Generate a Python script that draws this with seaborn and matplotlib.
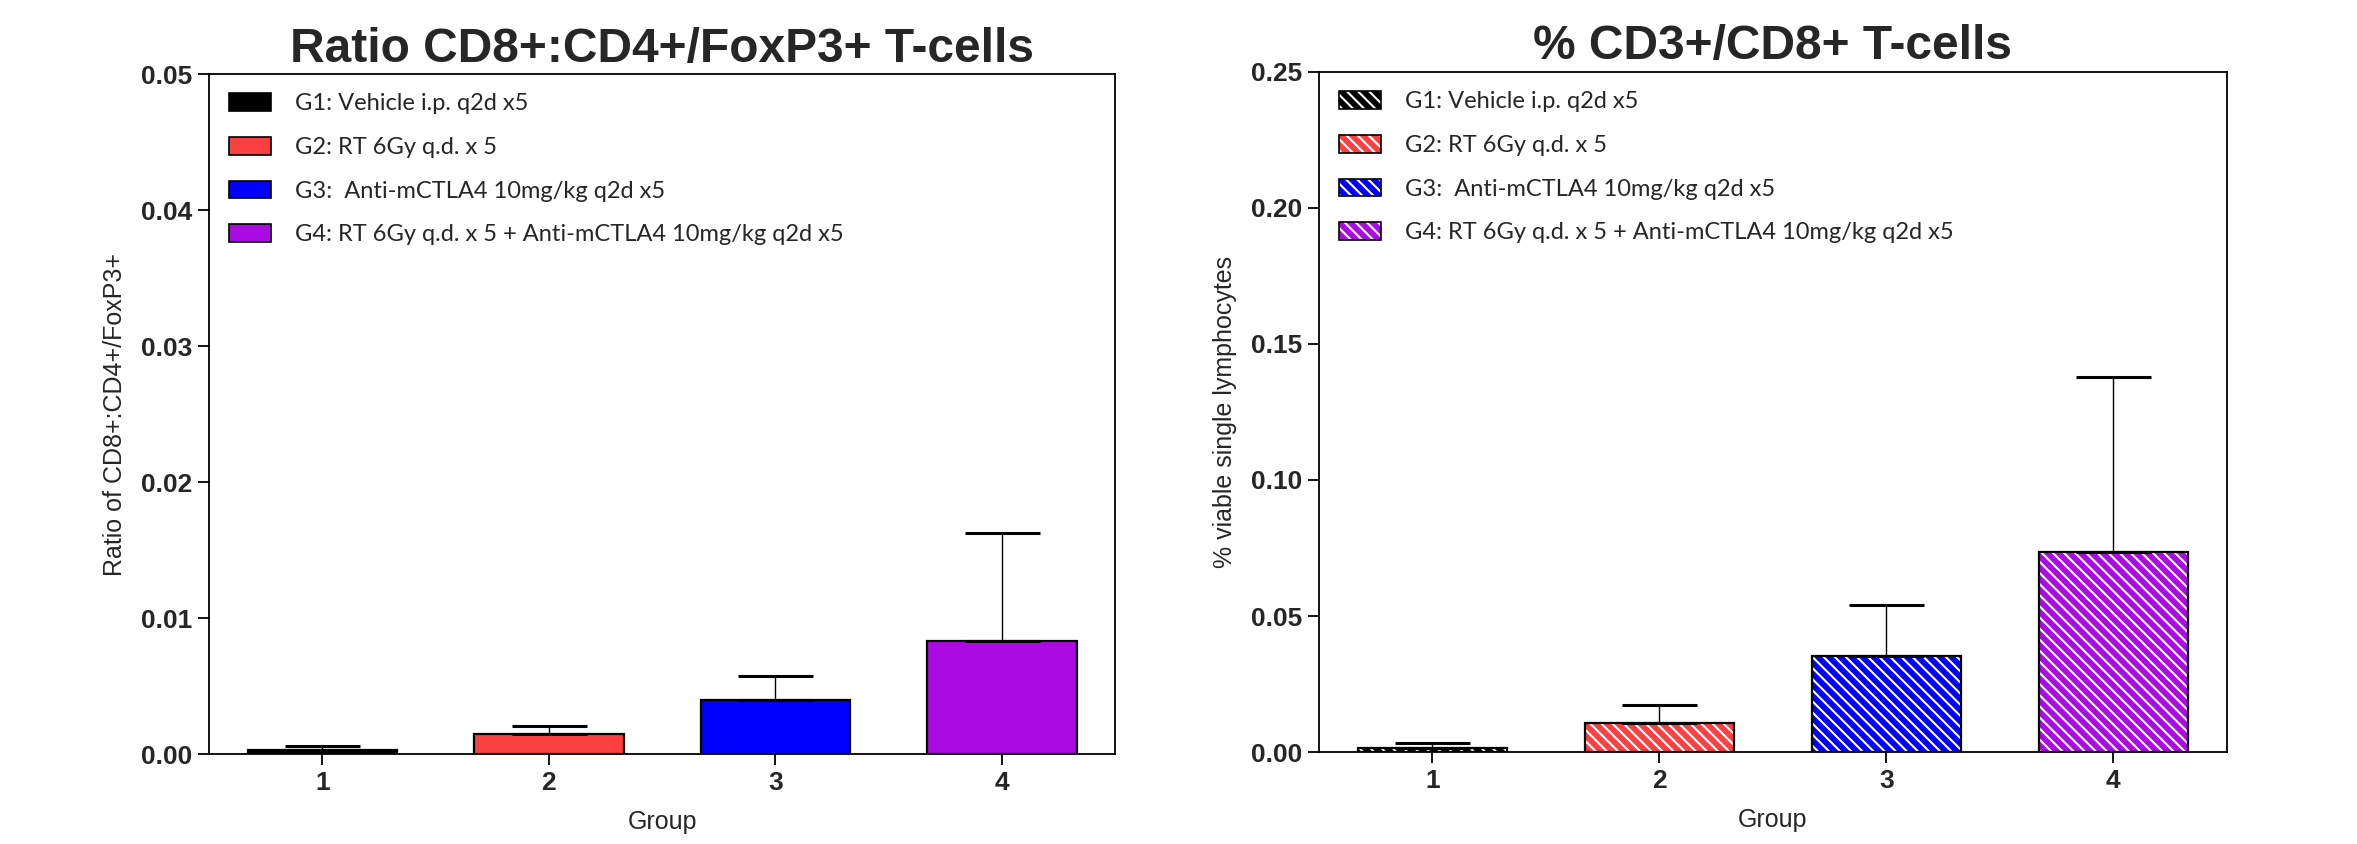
import numpy as np
import pandas as pd
import matplotlib
matplotlib.use("Agg")
import matplotlib.pyplot as plt
import seaborn as sns
from matplotlib.patches import Patch, Rectangle
from matplotlib.ticker import FormatStrFormatter

# ================== 数据 ==================
groups = ["1", "2", "3", "4"]
legend_labels = [
    "G1: Vehicle i.p. q2d x5",
    "G2: RT 6Gy q.d. x 5",
    "G3:  Anti-mCTLA4 10mg/kg q2d x5",
    "G4: RT 6Gy q.d. x 5 + Anti-mCTLA4 10mg/kg q2d x5",
]
group_colors = ["#000000", "#F94141", "#0000FF", "#AC0AE3"]

ratio_mean = [0.00032, 0.00145, 0.00397, 0.00833]
ratio_sem = [0.00025, 0.00059, 0.00174, 0.00790]

cd8_mean = [0.0016, 0.0108, 0.0353, 0.0737]
cd8_sem = [0.0016, 0.0066, 0.0186, 0.0641]

# ================== 样式 ==================
sns.set_style("ticks")
plt.rcParams["font.family"] = ["Liberation Sans", "DejaVu Sans"]
plt.rcParams["hatch.linewidth"] = 1.5
legend_font = {"family": ["Lato", "DejaVu Sans"], "size": 17}
HATCH = "\\\\\\"


def draw_panel(ax, means, sems, hatched, title, ylabel, ymax, ystep):
    df = pd.DataFrame({"Group": groups, "value": means})
    if hatched:
        sns.barplot(data=df, x="Group", y="value", hue="Group", palette=group_colors,
                    saturation=1, width=0.66, errorbar=None, edgecolor="white",
                    linewidth=0, hatch=HATCH, legend=False, ax=ax)
    else:
        sns.barplot(data=df, x="Group", y="value", hue="Group", palette=group_colors,
                    saturation=1, width=0.66, errorbar=None, edgecolor="black",
                    linewidth=1.6, legend=False, ax=ax)
    bars = list(ax.patches)
    if hatched:
        # 黑色外框
        for p in bars:
            ax.add_patch(Rectangle(p.get_xy(), p.get_width(), p.get_height(),
                                   fill=False, edgecolor="black", linewidth=1.6,
                                   zorder=p.get_zorder() + 0.1))

    # 单侧误差棒 (SEM)
    xs = [p.get_x() + p.get_width() / 2 for p in bars]
    ax.errorbar(xs, means, yerr=[np.zeros(len(means)), sems], fmt="none",
                ecolor="black", elinewidth=1.0, capsize=27, capthick=2.2, zorder=3)

    ax.set_xlim(-0.5, 3.5)
    ax.set_ylim(0, ymax)
    ax.set_yticks(np.arange(0, ymax + ystep / 2, ystep))
    ax.yaxis.set_major_formatter(FormatStrFormatter("%.2f"))

    for s in ax.spines.values():
        s.set_visible(True)
        s.set_linewidth(1.3)
        s.set_color("black")
    ax.tick_params(axis="both", length=8, width=1.3, pad=4, color="black")
    for lab in ax.get_xticklabels() + ax.get_yticklabels():
        lab.set_fontweight("bold")
        lab.set_fontsize(19)

    ax.set_title(title, fontsize=34.5, fontweight="bold", pad=9)
    ax.set_xlabel("Group", fontsize=18, labelpad=11)
    ax.set_ylabel(ylabel, fontsize=18, labelpad=10)

    # 图例
    if hatched:
        handles = [(Patch(facecolor=c, edgecolor="white", hatch=HATCH, linewidth=0),
                    Patch(fill=False, edgecolor="black", linewidth=1.2))
                   for c in group_colors]
    else:
        handles = [Patch(facecolor=c, edgecolor="black", linewidth=1.2) for c in group_colors]
    ax.legend(handles, legend_labels, loc="upper left", bbox_to_anchor=(0.022, 0.972),
              frameon=False, prop=legend_font, borderpad=0, borderaxespad=0,
              handlelength=1.8, handleheight=0.78, handletextpad=1.0, labelspacing=0.96)


fig = plt.figure(figsize=(23.57, 8.44), dpi=100)
ax1 = fig.add_axes([0.0887, 0.1066, 0.3844, 0.8057])
ax2 = fig.add_axes([0.5596, 0.1090, 0.3852, 0.8057])

draw_panel(ax1, ratio_mean, ratio_sem, False, "Ratio CD8+:CD4+/FoxP3+ T-cells",
           "Ratio of CD8+:CD4+/FoxP3+", 0.05, 0.01)
draw_panel(ax2, cd8_mean, cd8_sem, True, "% CD3+/CD8+ T-cells",
           "% viable single lymphocytes", 0.25, 0.05)

fig.savefig("out.png", dpi=100)
